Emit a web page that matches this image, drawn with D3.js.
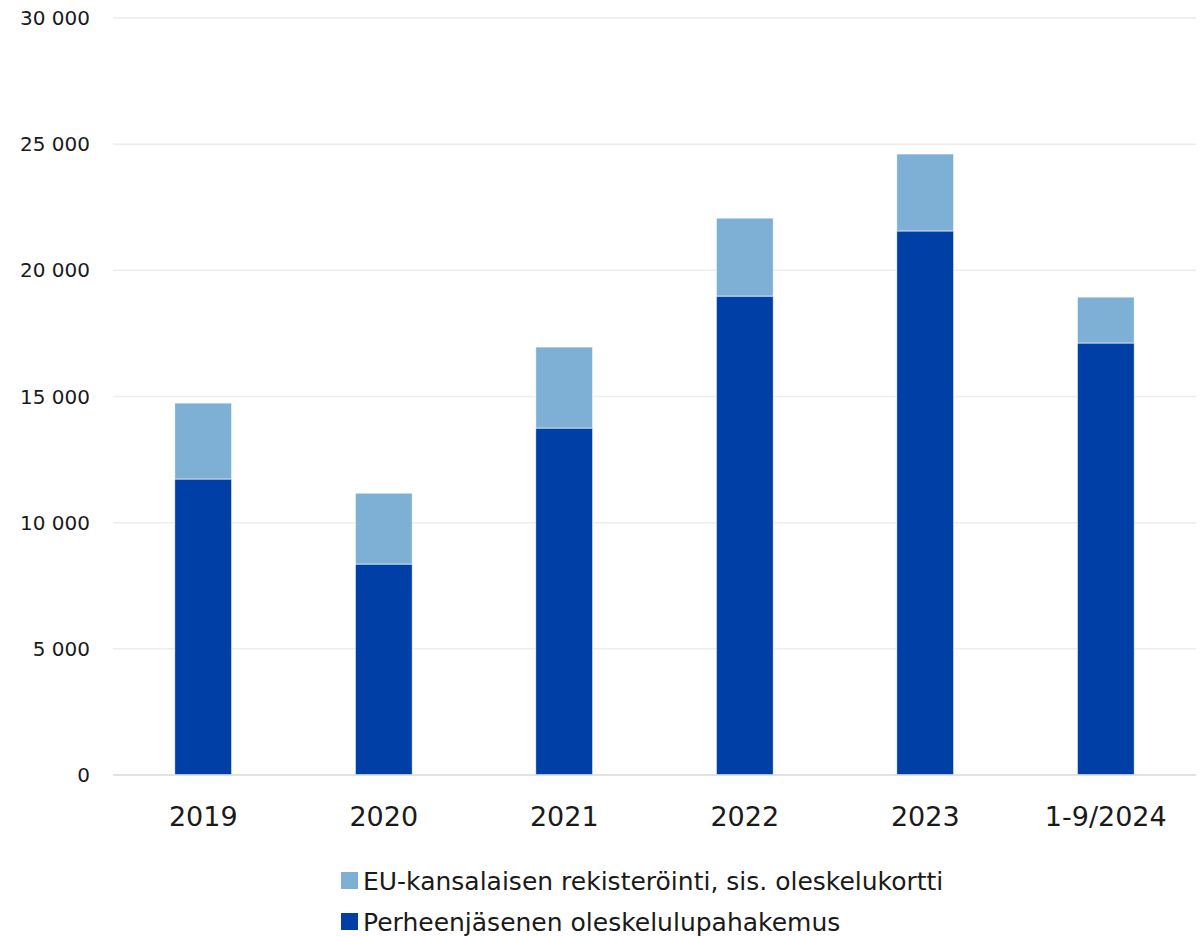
<!DOCTYPE html>
<html><head><meta charset="utf-8">
<script src="https://cdn.jsdelivr.net/npm/d3@7"></script>
<style>body{margin:0;background:#fff}svg{display:block}text{font-family:"DejaVu Sans",sans-serif;fill:#1a1a1a}</style>
</head><body><svg id="c" width="1203" height="936"></svg>
<script>
const categories = ["2019","2020","2021","2022","2023","1-9/2024"];
const perheenjasen = [11730, 8360, 13750, 18980, 21560, 17120];
const euKansalainen = [3010, 2810, 3210, 3090, 3050, 1820];
const seriesNames = ["EU-kansalaisen rekisteröinti, sis. oleskelukortti","Perheenjäsenen oleskelulupahakemus"];
const yTicks = [0,5000,10000,15000,20000,25000,30000];
const colors = ["#7EB0D5","#003FA5"];

const svg = d3.select("#c");
const x = d3.scaleBand().domain(categories).range([113,1196]).paddingInner(0.685).paddingOuter(0.3425);
const y = d3.scaleLinear().domain([0,30000]).range([775,18]);
const fmt = v => d3.format(",")(v).replace(/,/g," ");

svg.append("g").selectAll("line").data(yTicks.filter(d=>d>0)).join("line")
  .attr("x1",113).attr("x2",1196).attr("y1",d=>y(d)).attr("y2",d=>y(d))
  .attr("stroke","#EDEDED").attr("stroke-width",1.5);

svg.append("g").selectAll("text").data(yTicks).join("text")
  .attr("x",90).attr("y",d=>y(d)).attr("dy","0.35em").attr("text-anchor","end")
  .style("font-size","20px").text(fmt);

const data = categories.map((c,i)=>({cat:c, base:perheenjasen[i], top:euKansalainen[i]}));
const g = svg.append("g");
g.selectAll("rect.b").data(data).join("rect").attr("class","b")
  .attr("x",d=>x(d.cat)).attr("width",x.bandwidth())
  .attr("y",d=>y(d.base)).attr("height",d=>y(0)-y(d.base))
  .attr("fill",colors[1]).attr("stroke","#fff").attr("stroke-width",0.6);
g.selectAll("rect.t").data(data).join("rect").attr("class","t")
  .attr("x",d=>x(d.cat)).attr("width",x.bandwidth())
  .attr("y",d=>y(d.base+d.top)).attr("height",d=>y(d.base)-y(d.base+d.top))
  .attr("fill",colors[0]).attr("stroke","#fff").attr("stroke-width",0.6);

svg.append("line").attr("x1",113).attr("x2",1196).attr("y1",y(0)).attr("y2",y(0))
  .attr("stroke","#D9D9D9").attr("stroke-width",1.5);

svg.append("g").selectAll("text").data(categories).join("text")
  .attr("x",d=>x(d)+x.bandwidth()/2).attr("y",826).attr("text-anchor","middle")
  .style("font-size","27px").text(d=>d);

const leg = svg.append("g").selectAll("g").data(seriesNames).join("g")
  .attr("transform",(d,i)=>`translate(341,${872+i*41})`);
leg.append("rect").attr("width",17).attr("height",17).attr("fill",(d,i)=>colors[i]);
leg.append("text").attr("x",22).attr("y",18).style("font-size","25px").text(d=>d);
</script></body></html>
